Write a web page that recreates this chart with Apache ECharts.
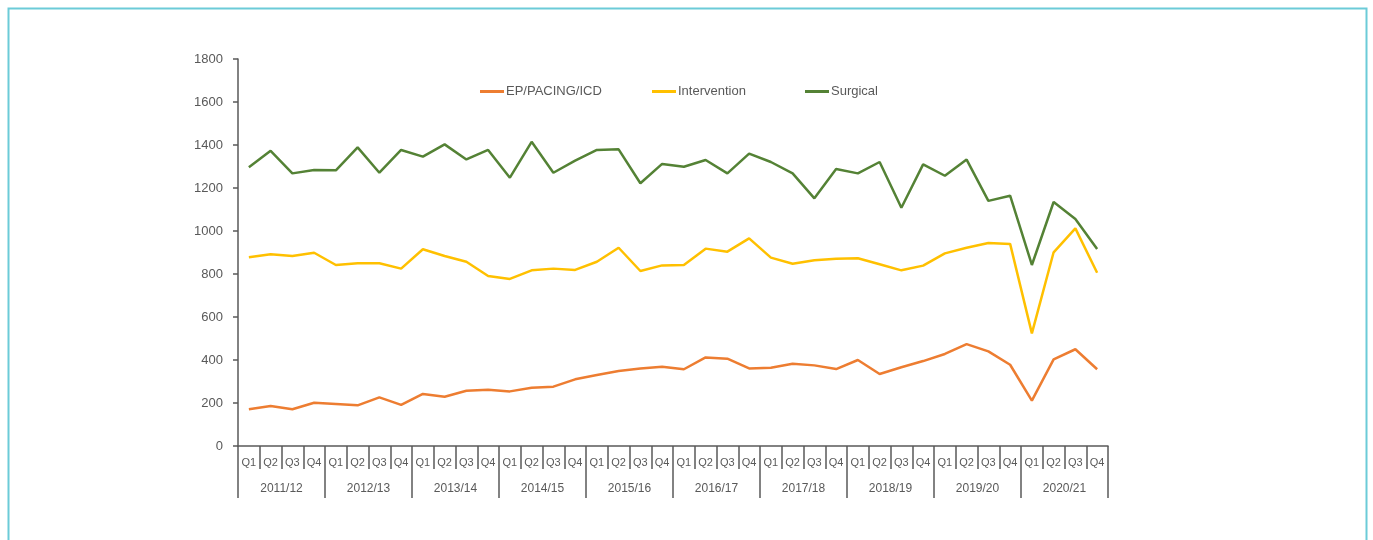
<!DOCTYPE html>
<html>
<head>
<meta charset="utf-8">
<title>Cardiac procedures by quarter</title>
<script src="https://cdn.jsdelivr.net/npm/echarts@6/dist/echarts.min.js"></script>
<style>
  html, body { margin: 0; padding: 0; background: #fff; }
  #main { width: 1373px; height: 540px; }
</style>
</head>
<body>
<div id="main"></div>
<script>
// financial years and their quarters
var years = ['2011/12', '2012/13', '2013/14', '2014/15', '2015/16',
             '2016/17', '2017/18', '2018/19', '2019/20', '2020/21'];
var quarterNames = ['Q1', 'Q2', 'Q3', 'Q4'];
var quarters = [];
years.forEach(function () {
    quarterNames.forEach(function (q) { quarters.push(q); });
});

// values
var epPacingIcd = [171, 186, 171, 201, 195, 189, 226, 191, 242, 229, 257, 262,
                   254, 271, 276, 310, 330, 349, 361, 369, 357, 412, 406, 361,
                   364, 383, 375, 358, 400, 335, 366, 395, 428, 474, 440, 378,
                   211, 403, 450, 357];
var intervention = [878, 892, 884, 899, 842, 850, 850, 825, 915, 884, 857, 791,
                    777, 817, 825, 819, 857, 922, 814, 840, 842, 918, 904, 966,
                    876, 848, 864, 871, 873, 845, 817, 839, 896, 922, 944, 940,
                    524, 901, 1012, 806];
var surgical = [1296, 1373, 1268, 1284, 1282, 1389, 1271, 1377, 1346, 1403, 1333, 1377,
                1248, 1415, 1271, 1327, 1377, 1380, 1222, 1312, 1299, 1330, 1268, 1360,
                1321, 1268, 1152, 1288, 1268, 1321, 1108, 1310, 1257, 1332, 1140, 1164,
                842, 1135, 1056, 916];

var seriesNames = ['EP/PACING/ICD', 'Intervention', 'Surgical'];
var seriesColors = ['#ed7d31', '#ffc000', '#548235'];

var axisColor = '#595959';
var textColor = '#595959';
var font = 'Liberation Sans';

// one legend per series so each entry sits where it does in the original
var legendLeft = [475, 647, 800];
var legends = seriesNames.map(function (name, i) {
    return {
        left: legendLeft[i],
        top: 80,
        itemWidth: 24,
        itemHeight: 3,
        icon: 'rect',
        textStyle: { color: textColor, fontSize: 13, fontFamily: font, padding: [0, 0, 0, -3] },
        data: [name]
    };
});

var myChart = echarts.init(document.getElementById('main'));
var option = {
    animation: false,
    textStyle: { fontFamily: font },
    graphic: [{
        type: 'rect',
        left: 6, top: 6,
        shape: { width: 1358, height: 560 },
        style: { fill: 'none', stroke: '#6ccbd8', lineWidth: 2 }
    }],
    legend: legends,
    grid: { left: 238, right: 265, top: 59, bottom: 94 },
    xAxis: [{
        type: 'category',
        data: quarters,
        boundaryGap: true,
        axisLine: { show: true, lineStyle: { color: axisColor, width: 1.5 } },
        axisTick: { show: true, interval: 0, length: 23, lineStyle: { color: axisColor, width: 1.5 } },
        axisLabel: { interval: 0, margin: 11, fontSize: 11, color: textColor, fontFamily: font }
    }, {
        type: 'category',
        data: years,
        position: 'bottom',
        boundaryGap: true,
        axisLine: { show: false },
        axisTick: { show: true, interval: 0, length: 52, lineStyle: { color: axisColor, width: 1.5 } },
        axisLabel: { interval: 0, margin: 37, fontSize: 12, color: textColor, fontFamily: font }
    }],
    yAxis: {
        type: 'value',
        min: 0,
        max: 1800,
        interval: 200,
        splitLine: { show: false },
        axisLine: { show: true, lineStyle: { color: axisColor, width: 1.5 } },
        axisTick: { show: true, length: 5, lineStyle: { color: axisColor, width: 1.5 } },
        axisLabel: {
            margin: 15, fontSize: 13, color: textColor, fontFamily: font,
            formatter: function (v) { return String(v); }
        }
    },
    series: [epPacingIcd, intervention, surgical].map(function (values, i) {
        return {
            name: seriesNames[i],
            type: 'line',
            xAxisIndex: 0,
            data: values,
            showSymbol: false,
            symbol: 'none',
            itemStyle: { color: seriesColors[i] },
            lineStyle: { color: seriesColors[i], width: 2.5 }
        };
    })
};
myChart.setOption(option);
</script>
</body>
</html>
